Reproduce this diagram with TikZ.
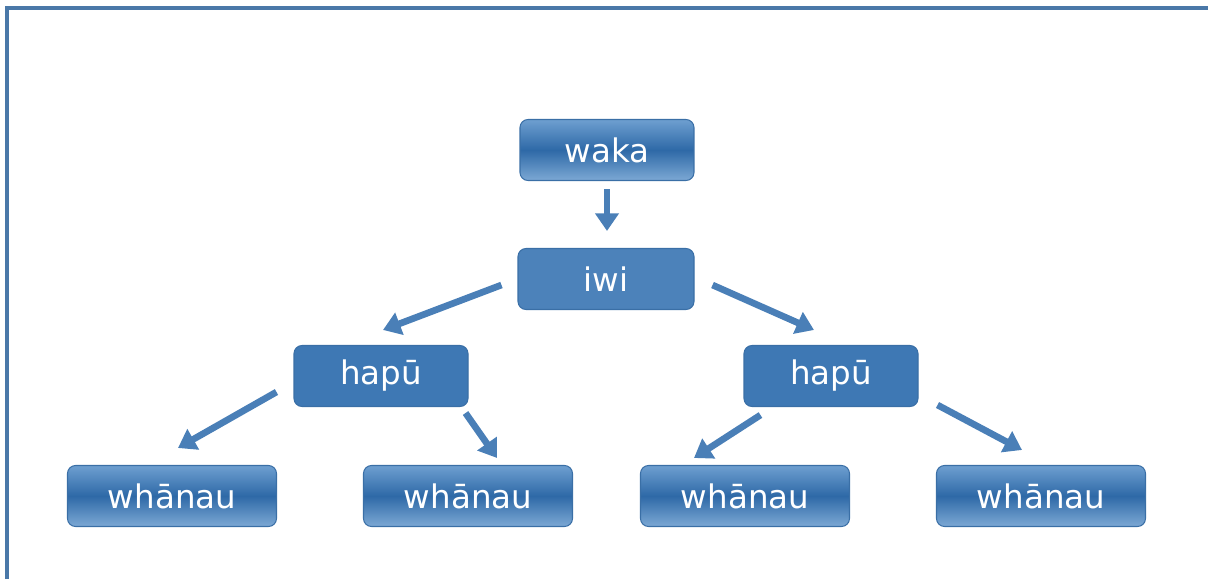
\documentclass[tikz,border=0pt]{standalone}
\usepackage{fontspec}
\newfontfamily\boxfont{DejaVu Sans}
\usetikzlibrary{arrows.meta,calc}
\definecolor{frameblue}{HTML}{4A78A8}
\definecolor{arrowblue}{HTML}{4A7FB7}
\definecolor{edgeblue}{HTML}{3A6FA6}
\definecolor{lightblue}{HTML}{6E9FD0}
\definecolor{darkblue}{HTML}{2E69A7}
\definecolor{flatblue}{HTML}{3E78B4}
\definecolor{mottled}{HTML}{4C82BA}
\tikzset{
  x=0.02cm, y=-0.02cm,
  basebox/.style={rounded corners=8*0.02cm, draw=edgeblue, line width=0.6pt,
    text=white, font=\boxfont\fontsize{18.5}{20}\selectfont,
    minimum height=61*0.02cm, inner sep=0pt},
  glossbox/.style={basebox, top color=lightblue, bottom color=lightblue!90!white,
    middle color=darkblue},
  flatbox/.style={basebox, fill=flatblue},
  mottlebox/.style={basebox, fill=mottled},
  link/.style={draw=arrowblue, line width=3.8pt,
    -{Triangle[width=13pt,length=10pt]}},
}
\begin{document}
\begin{tikzpicture}
\useasboundingbox (0,0) rectangle (1208,579);
% frame on the top and left
\draw[frameblue, line width=1.8pt] (7,579) -- (7,8) -- (1208,8);

% nodes
\node[glossbox, minimum width=174*0.02cm] (waka) at (607,150) {waka};
\node[mottlebox, minimum width=176*0.02cm] (iwi) at (606,279) {iwi};
\node[flatbox, minimum width=174*0.02cm] (hapL) at (381,376) {hapū};
\node[flatbox, minimum width=174*0.02cm] (hapR) at (831,376) {hapū};
\node[glossbox, minimum width=209*0.02cm] (wh1) at (172,496) {whānau};
\node[glossbox, minimum width=209*0.02cm] (wh2) at (468,496) {whānau};
\node[glossbox, minimum width=209*0.02cm] (wh3) at (745,496) {whānau};
\node[glossbox, minimum width=209*0.02cm] (wh4) at (1041,496) {whānau};

% connectors
\draw[link] ($(waka.south)+(0,8)$) -- ($(waka.south |- iwi.north)+(0,-17)$);
\draw[link] ($(iwi.west)+(-16,6)$) -- ($(hapL.north)+(2,-15)$);
\draw[link] ($(iwi.east)+(18,6)$) -- ($(hapR.north)+(-17,-15)$);
\draw[link] ($(hapL.west)+(-17,16)$) -- ($(wh1.north)+(6,-17)$);
\draw[link] ($(hapL.south east)+(-3,6)$) -- ($(wh2.north)+(29,-7)$);
\draw[link] ($(hapR.south west)+(17,8)$) -- ($(wh3.north)+(-51,-7)$);
\draw[link] ($(hapR.east)+(19,29)$) -- ($(wh4.north)+(-19,-15)$);
\end{tikzpicture}
\end{document}
